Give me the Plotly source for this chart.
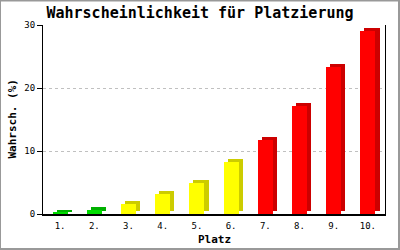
import plotly.graph_objects as go

categories = ["1.", "2.", "3.", "4.", "5.", "6.", "7.", "8.", "9.", "10."]
values = [0.2, 0.6, 1.6, 3.2, 5.0, 8.3, 11.8, 17.2, 23.4, 29.0]
front_colors = ["#00dd00", "#00dd00", "#ffff00", "#ffff00", "#ffff00", "#ffff00",
                "#ff0000", "#ff0000", "#ff0000", "#ff0000"]
side_colors = ["#00b000", "#00b000", "#cccc00", "#cccc00", "#cccc00", "#cccc00",
               "#cc0000", "#cc0000", "#cc0000", "#cc0000"]
y_ticks = [0, 10, 20, 30]

title_text = "Wahrscheinlichkeit für Platzierung"
y_title = "Wahrsch. (%)"
x_title = "Platz"

mono = "DejaVu Sans Mono"
depth_up = 0.45

fig = go.Figure()
# depth (side/top) of pseudo-3D bars
fig.add_trace(go.Bar(x=categories, y=values, base=[depth_up] * len(values),
                     width=0.44, offset=-0.10,
                     marker=dict(color=side_colors, line=dict(width=0)),
                     hoverinfo="skip"))
# front faces
fig.add_trace(go.Bar(x=categories, y=values, width=0.44, offset=-0.22,
                     marker=dict(color=front_colors, line=dict(width=0))))

fig.update_layout(
    width=400, height=250,
    margin=dict(l=43, r=15, t=25, b=36),
    paper_bgcolor="white", plot_bgcolor="white",
    barmode="overlay", showlegend=False, bargap=0,
    title=dict(text=title_text, x=0.5, xanchor="center",
               y=1 - 13 / 250, yref="container", yanchor="middle",
               font=dict(family=mono, size=15, color="black", weight="bold")),
    xaxis=dict(showline=True, linecolor="black", linewidth=2, ticks="",
               showgrid=False, tickfont=dict(family=mono, size=9, color="black"),
               ticklabelstandoff=2, fixedrange=True),
    yaxis=dict(range=[0, 30], tickvals=y_ticks, showline=True, linecolor="black",
               linewidth=1, mirror=True, ticks="outside", ticklen=5,
               tickcolor="black", showgrid=True, gridcolor="#c0c0c0",
               griddash="3px,3px", gridwidth=1, zeroline=False,
               tickfont=dict(family=mono, size=9, color="black")),
    annotations=[
        dict(text=y_title, xref="paper", yref="paper", x=0, y=0.5,
             xanchor="center", yanchor="middle", xshift=-31, textangle=-90,
             showarrow=False,
             font=dict(family=mono, size=11, color="black", weight="bold")),
        dict(text=x_title, xref="paper", yref="paper", x=0.5, y=0,
             xanchor="center", yanchor="middle", yshift=-25, showarrow=False,
             font=dict(family=mono, size=11, color="black", weight="bold")),
    ],
    shapes=[dict(type="rect", xref="paper", yref="paper",
                 x0=-43 / 342, x1=1 + 14 / 342, y0=-35 / 189, y1=1 + 24.5 / 189,
                 line=dict(color="#999999", width=2), layer="below")],
)

fig.write_html("out.html")
